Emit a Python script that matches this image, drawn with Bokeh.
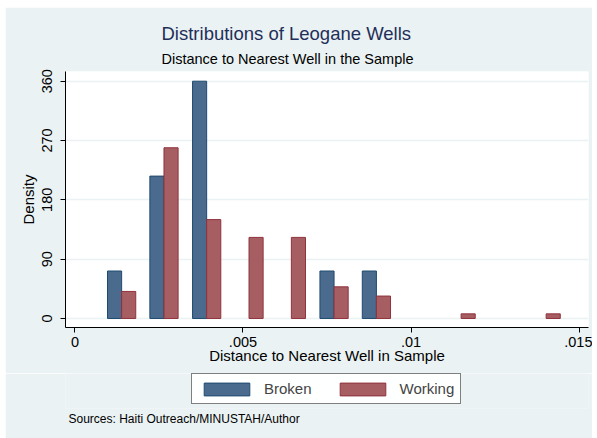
from bokeh.plotting import figure
from bokeh.layouts import column
from bokeh.models import (Range1d, FixedTicker, Legend, LegendItem, Title, ColumnDataSource)
from bokeh.transform import dodge
from bokeh.embed import file_html
from bokeh.resources import INLINE

# ---- data ----
broken_bin = [0.00139, 0.00265, 0.00392, 0.00771, 0.00897]
broken_density = [72, 216, 360, 72, 72]
working_bin = [0.00139, 0.00265, 0.00392, 0.00518, 0.00644, 0.00771, 0.00897, 0.01149, 0.01402]
working_density = [41, 259, 150, 123, 123, 48, 34, 7, 7]
x_ticks = [0, 0.005, 0.01, 0.015]
x_tick_labels = ["0", ".005", ".01", ".015"]
y_ticks = [0, 90, 180, 270, 360]
series_names = ["Broken", "Working"]

BAR_W = 0.00042
FONT = "Liberation Sans"
BG = "#EAF2F3"
B_FILL, B_LINE = "#4A6B8D", "#1F4A70"
W_FILL, W_LINE = "#A65E63", "#90323C"

p = figure(width=587, height=366, output_backend="svg", toolbar_location=None, title=None,
           x_range=Range1d(-0.00028, 0.01528), y_range=Range1d(-13.7, 374.7),
           min_border_left=60, min_border_right=4, min_border_top=64, min_border_bottom=46)
p.margin = (7, 0, 0, 5)
p.border_fill_color = BG
p.background_fill_color = "white"
p.outline_line_color = None

src_b = ColumnDataSource(dict(x=broken_bin, d=broken_density))
src_w = ColumnDataSource(dict(x=working_bin, d=working_density))
p.vbar(x=dodge("x", -BAR_W / 2), top="d", bottom=0, width=BAR_W, source=src_b,
       fill_color=B_FILL, line_color=B_LINE, line_width=1)
p.vbar(x=dodge("x", BAR_W / 2), top="d", bottom=0, width=BAR_W, source=src_w,
       fill_color=W_FILL, line_color=W_LINE, line_width=1)

# axes
p.xgrid.visible = False
p.ygrid.ticker = FixedTicker(ticks=y_ticks)
p.ygrid.grid_line_color = BG
p.ygrid.grid_line_width = 1.5

for ax in (p.xaxis[0], p.yaxis[0]):
    ax.axis_line_color = "black"
    ax.major_tick_line_color = "black"
    ax.major_tick_out = 5
    ax.major_tick_in = 0
    ax.minor_tick_line_color = None
    ax.major_label_text_font = FONT
    ax.major_label_text_font_size = "14.5px"
    ax.major_label_text_color = "black"
    ax.axis_label_text_font = FONT
    ax.axis_label_text_font_size = "15px"
    ax.axis_label_text_font_style = "normal"
    ax.axis_label_text_color = "black"

p.xaxis.ticker = FixedTicker(ticks=x_ticks)
p.xaxis.major_label_overrides = {t: l for t, l in zip(x_ticks, x_tick_labels)}
p.xaxis.axis_label = "Distance to Nearest Well in Sample"
p.xaxis.major_label_standoff = 4
p.xaxis.axis_label_standoff = -3

p.yaxis.ticker = FixedTicker(ticks=y_ticks)
p.yaxis.major_label_orientation = "vertical"
p.yaxis.axis_label = "Density"
p.yaxis.major_label_standoff = 8
p.yaxis.axis_label_standoff = 3

# titles
sub = Title(text="Distance to Nearest Well in the Sample", align="left", offset=96,
            text_font=FONT, text_font_size="14.5px", text_font_style="normal",
            text_color="black", standoff=10)
p.add_layout(sub, "above")
main = Title(text="Distributions of Leogane Wells", align="left", offset=96,
             text_font=FONT, text_font_size="18.5px", text_font_style="normal",
             text_color="#1F2F5A", standoff=0)
p.add_layout(main, "above")

# ---- lower strip: legend and source note (frame aligned with the plot above) ----
p2 = figure(width=587, height=65, output_backend="svg", toolbar_location=None, title=None,
            x_range=Range1d(0, 1), y_range=Range1d(0, 1), x_axis_type=None, y_axis_type=None,
            min_border_left=0, min_border_right=0, min_border_top=0, min_border_bottom=30)
p2.margin = (0, 0, 0, 5)
p2.border_fill_color = BG
p2.background_fill_color = BG
p2.outline_line_color = None

# hidden proxy renderers that only supply the legend swatches
proxy_b = p2.vbar(x=[0.5], top=[0.5], width=0.1, fill_color=B_FILL, line_color=B_LINE,
                  line_width=1, visible=False)
proxy_w = p2.vbar(x=[0.5], top=[0.5], width=0.1, fill_color=W_FILL, line_color=W_LINE,
                  line_width=1, visible=False)

legend = Legend(items=[LegendItem(label=series_names[0], renderers=[proxy_b]),
                       LegendItem(label=series_names[1], renderers=[proxy_w])],
                orientation="horizontal", location=(126, 4),
                glyph_width=57, glyph_height=16, label_height=16, label_standoff=9,
                spacing=22, padding=6, margin=0,
                border_line_color="black", border_line_width=1,
                background_fill_color="white",
                inactive_fill_alpha=0,
                label_text_font=FONT, label_text_font_size="15px")
p2.add_layout(legend, "center")

src_note = Title(text="Sources: Haiti Outreach/MINUSTAH/Author", align="left", offset=3,
                 text_font=FONT, text_font_size="12px", text_font_style="normal",
                 text_color="black", standoff=2)
p2.add_layout(src_note, "below")

layout = column(p, p2, spacing=0)
open("out.html", "w").write(file_html(layout, INLINE))
